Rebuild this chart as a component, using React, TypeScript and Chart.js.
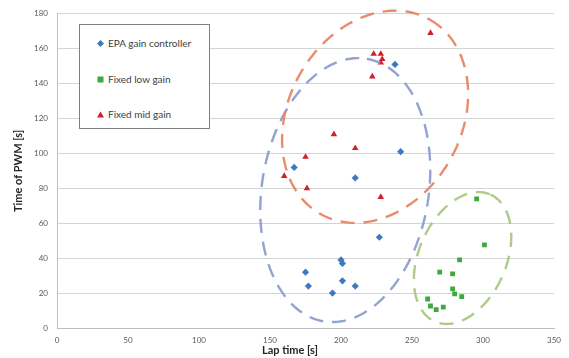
import React, { useEffect, useRef } from "react";
import { Chart, registerables } from "chart.js";

Chart.register(...registerables);

const lapEPA = [238, 242, 167, 210, 227, 200, 201, 175, 177, 201, 210, 194];
const pwmEPA = [151, 101, 92, 86, 52, 39, 37, 32, 24, 27, 24, 20];
const lapLow = [295.5, 301, 283.5, 269.5, 278.6, 278.6, 280, 285, 261, 263, 267, 272];
const pwmLow = [74, 47.6, 39, 32, 31, 22.4, 19.5, 18, 16.6, 12.6, 10.5, 12];
const lapMid = [263, 223, 228, 229, 228, 222, 195, 210, 175, 160, 176, 228];
const pwmMid = [169, 157, 157, 154, 152, 144, 111, 103, 98, 87, 80, 75];

const seriesNames = ["EPA gain controller", "Fixed low gain", "Fixed mid gain"];
const xTicks = [0, 50, 100, 150, 200, 250, 300, 350];
const yTicks = [0, 20, 40, 60, 80, 100, 120, 140, 160, 180];

// cluster ellipses in data units: center, major semi-axis vector, minor semi-axis vector
const ellipseCenters = [[203, 79], [285.6, 40.1], [224, 121]];
const ellipseMajor = [[15.2, 75.2], [19.5, 36.4], [38.9, 55.5]];
const ellipseMinor = [[57.9, -7.85], [28.2, -10.1], [52.7, -24.8]];

const COLORS = {
  epa: "#3F78BE",
  low: "#3DAA3D",
  mid: "#D0202A",
};
const ellipseColors = ["rgba(140,158,208,0.95)", "rgba(170,200,130,0.95)", "rgba(232,134,100,0.95)"];

const ellipsePlugin = {
  id: "clusterEllipses",
  afterDatasetsDraw(chart: any) {
    const { ctx, scales } = chart;
    const xs = scales.x;
    const ys = scales.y;
    ellipseCenters.forEach((c, i) => {
      const u = ellipseMajor[i];
      const v = ellipseMinor[i];
      ctx.save();
      ctx.beginPath();
      const N = 160;
      for (let k = 0; k <= N; k++) {
        const t = (k / N) * Math.PI * 2;
        const dx = c[0] + u[0] * Math.cos(t) + v[0] * Math.sin(t);
        const dy = c[1] + u[1] * Math.cos(t) + v[1] * Math.sin(t);
        const px = xs.getPixelForValue(dx);
        const py = ys.getPixelForValue(dy);
        if (k === 0) ctx.moveTo(px, py);
        else ctx.lineTo(px, py);
      }
      ctx.strokeStyle = ellipseColors[i];
      ctx.lineWidth = 2.4;
      ctx.setLineDash([14, 9]);
      ctx.stroke();
      ctx.restore();
    });
  },
};

function toPoints(xs: number[], ys: number[]) {
  return xs.map((x, i) => ({ x, y: ys[i] }));
}

export default function App() {
  const canvasRef = useRef<HTMLCanvasElement | null>(null);

  useEffect(() => {
    if (!canvasRef.current) return;
    const chart = new Chart(canvasRef.current, {
      type: "scatter",
      data: {
        datasets: [
          {
            label: seriesNames[0],
            data: toPoints(lapEPA, pwmEPA),
            pointStyle: "rectRot",
            pointRadius: 3.6,
            backgroundColor: COLORS.epa,
            borderColor: COLORS.epa,
            borderWidth: 0,
          },
          {
            label: seriesNames[1],
            data: toPoints(lapLow, pwmLow),
            pointStyle: "rect",
            pointRadius: 3.4,
            backgroundColor: COLORS.low,
            borderColor: COLORS.low,
            borderWidth: 0,
          },
          {
            label: seriesNames[2],
            data: toPoints(lapMid, pwmMid),
            pointStyle: "triangle",
            pointRadius: 3.8,
            backgroundColor: COLORS.mid,
            borderColor: COLORS.mid,
            borderWidth: 0,
          },
        ],
      },
      options: {
        animation: false,
        responsive: false,
        maintainAspectRatio: false,
        layout: { padding: { left: 0, right: 12, top: 13, bottom: 0 } },
        plugins: {
          legend: { display: false },
          tooltip: { enabled: false },
        },
        scales: {
          x: {
            type: "linear",
            min: 0,
            max: 350,
            afterBuildTicks: (s: any) => {
              s.ticks = xTicks.map((v) => ({ value: v }));
            },
            afterFit: (s: any) => {
              s.height = 30;
            },
            grid: { display: false, drawTicks: false },
            border: { display: true, color: "#BFBFBF", width: 1 },
            ticks: {
              color: "#595959",
              font: { family: "Lato", size: 8 },
              padding: 8,
            },
            title: { display: false },
          },
          y: {
            type: "linear",
            min: 0,
            max: 180,
            afterBuildTicks: (s: any) => {
              s.ticks = yTicks.map((v) => ({ value: v }));
            },
            afterFit: (s: any) => {
              s.width = 57;
            },
            grid: { color: "#D4D4D4", lineWidth: 1, drawTicks: false },
            border: { display: true, color: "#BFBFBF", width: 1 },
            ticks: {
              color: "#595959",
              font: { family: "Lato", size: 8 },
              padding: 9,
            },
            title: {
              display: true,
              text: "Time of PWM [s]",
              color: "#262626",
              font: { family: "Lato", size: 11, weight: "bold" },
              padding: { top: 12, bottom: 0 },
            },
          },
        },
      },
      plugins: [ellipsePlugin],
    });
    return () => chart.destroy();
  }, []);

  const legendItem = (label: string, marker: React.ReactNode, top: number) => (
    <div
      style={{
        position: "absolute",
        left: 96,
        top,
        height: 12,
        display: "flex",
        alignItems: "center",
        fontFamily: "Lato",
        fontSize: 10,
        color: "#404040",
        whiteSpace: "nowrap",
      }}
    >
      <svg width="9" height="9" style={{ marginRight: 3 }}>
        {marker}
      </svg>
      <span>{label}</span>
    </div>
  );

  return (
    <div style={{ position: "absolute", left: 0, top: 0, width: 569, height: 358, background: "#fff" }}>
      <canvas ref={canvasRef} width={569} height={358} style={{ display: "block" }} />
      <div
        style={{
          position: "absolute",
          left: 79,
          top: 24,
          width: 131,
          height: 105,
          border: "1px solid #7F7F7F",
          background: "#fff",
          boxSizing: "border-box",
        }}
      />
      {legendItem(seriesNames[0], <polygon points="4.5,1 8,4.5 4.5,8 1,4.5" fill={COLORS.epa} />, 37)}
      {legendItem(seriesNames[1], <rect x="1.5" y="1.5" width="6" height="6" fill={COLORS.low} />, 73)}
      {legendItem(seriesNames[2], <polygon points="4.5,1.5 8,7.5 1,7.5" fill={COLORS.mid} />, 108)}
      <div
        style={{
          position: "absolute",
          left: 240,
          width: 100,
          top: 343,
          textAlign: "center",
          fontFamily: "Lato",
          fontWeight: "bold",
          fontSize: 11,
          color: "#262626",
        }}
      >
        Lap time [s]
      </div>
    </div>
  );
}
